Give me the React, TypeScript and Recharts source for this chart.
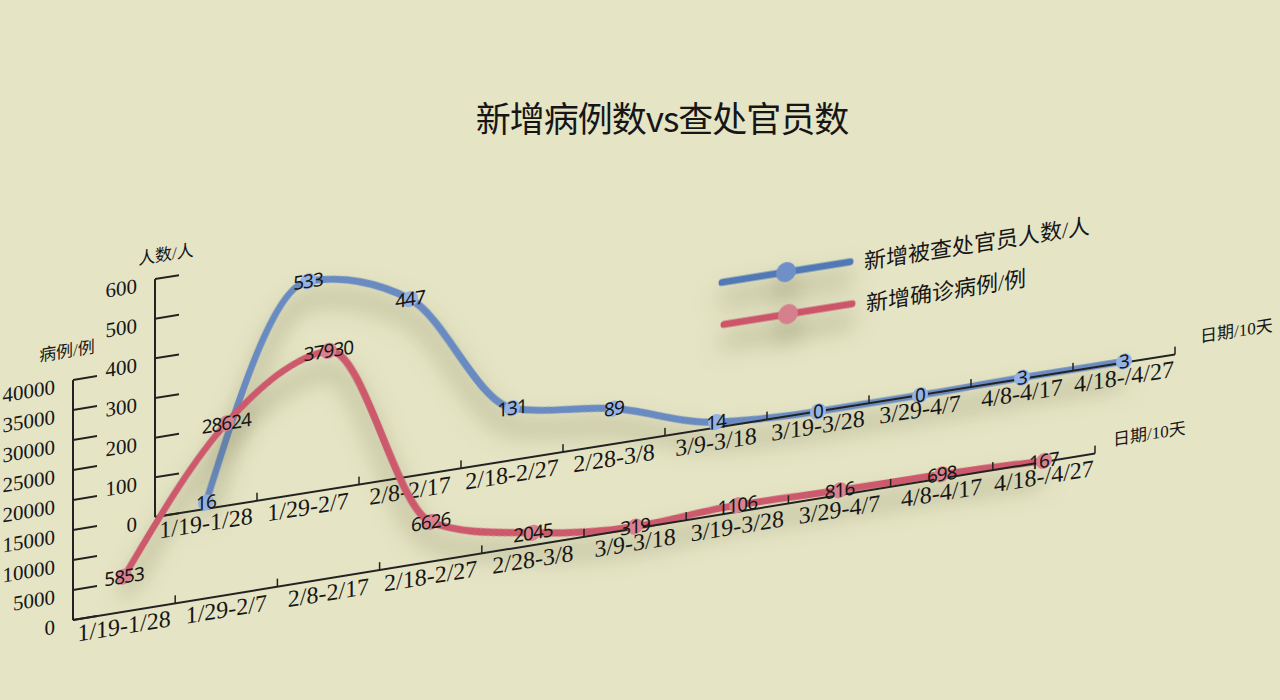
import React from "react";
import { LineChart, Line, XAxis, YAxis, LabelList } from "recharts";

// 10-day periods
const categories = [
  "1/19-1/28",
  "1/29-2/7",
  "2/8-2/17",
  "2/18-2/27",
  "2/28-3/8",
  "3/9-3/18",
  "3/19-3/28",
  "3/29-4/7",
  "4/8-4/17",
  "4/18-/4/27",
];
const officials = [16, 533, 447, 131, 89, 14, 0, 0, 3, 3];
const cases = [5853, 28624, 37930, 6626, 2045, 319, 1106, 816, 698, 167];
const officialTicks = [0, 100, 200, 300, 400, 500, 600];
const caseTicks = [0, 5000, 10000, 15000, 20000, 25000, 30000, 35000, 40000];

const officialsName = "新增被查处官员人数/人";
const casesName = "新增确诊病例/例";

const SERIF = '"Liberation Serif", "DejaVu Serif", "Noto Sans CJK SC", serif';
const SANS = '"Noto Sans", sans-serif';
const INK = "#161616";

const YTick = (props: any) => (
  <text
    x={props.x}
    y={props.y + 4}
    textAnchor="end"
    dominantBaseline="central"
    fontSize={21}
    fontFamily={SERIF}
    fill={INK}
  >
    {props.payload.value}
  </text>
);

function makeXTick(band: number) {
  return (props: any) => {
    const { x, y, payload } = props;
    return (
      <g>
        <line x1={x + band / 2} x2={x + band / 2} y1={y} y2={y - 8} stroke="#222" strokeWidth={1.5} />
        <text
          x={x}
          y={y + 3}
          dy="0.8em"
          textAnchor="middle"
          fontSize={24}
          fontFamily={SERIF}
          fill={INK}
        >
          {payload.value}
        </text>
      </g>
    );
  };
}

type PanelProps = {
  values: number[];
  ticks: number[];
  box: { left: number; top: number; right: number; bottom: number };
  slope: number;
  color: string;
  dotColor: string;
  yName: string;
  yNameAt: [number, number];
  xNameAt: [number, number];
};

function Panel({ values, ticks, box, slope, color, dotColor, yName, yNameAt, xNameAt }: PanelProps) {
  const rows = categories.map((c, i) => ({ cat: c, v: values[i] }));
  const band = (box.right - box.left) / categories.length;
  const nameStyle: React.CSSProperties = {
    position: "absolute",
    fontFamily: SERIF,
    fontSize: 17,
    lineHeight: "20px",
    color: INK,
    whiteSpace: "nowrap",
  };
  return (
    <div
      style={{
        position: "absolute",
        left: 0,
        top: 0,
        width: 1280,
        height: 700,
        transform: `skewY(${-slope}deg)`,
        transformOrigin: `${box.left}px ${box.bottom}px`,
      }}
    >
      <LineChart
        width={1280}
        height={700}
        data={rows}
        margin={{ top: box.top, left: box.left - 60, right: 1280 - box.right, bottom: 700 - box.bottom - 40 }}
      >
        <XAxis
          dataKey="cat"
          height={40}
          interval={0}
          padding={{ left: band / 2, right: band / 2 }}
          tickSize={0}
          tickMargin={0}
          tickLine={false}
          axisLine={{ stroke: "#222", strokeWidth: 2 }}
          tick={makeXTick(band)}
        />
        <YAxis
          width={60}
          domain={[ticks[0], ticks[ticks.length - 1]]}
          ticks={ticks}
          interval={0}
          tickSize={-24}
          tickMargin={42}
          axisLine={{ stroke: "#222", strokeWidth: 2 }}
          tickLine={{ stroke: "#222", strokeWidth: 2 }}
          tick={YTick}
        />
        <Line
          type="monotone"
          dataKey="v"
          className="shadowed"
          stroke={color}
          strokeWidth={7}
          dot={{ r: 8, fill: dotColor, stroke: "none" }}
          activeDot={false}
          isAnimationActive={false}
        >
          <LabelList dataKey="v" position="center" fill={INK} fontSize={19} letterSpacing={-1} fontFamily={SANS} />
        </Line>
      </LineChart>
      <div style={{ ...nameStyle, left: yNameAt[0] - 40, top: yNameAt[1] - 10, width: 80, textAlign: "center" }}>
        {yName}
      </div>
      <div style={{ ...nameStyle, left: xNameAt[0], top: xNameAt[1] - 10 }}>日期/10天</div>
    </div>
  );
}

function LegendItem({ x, y, color, dotColor, label }: { x: number; y: number; color: string; dotColor: string; label: string }) {
  return (
    <div
      style={{
        position: "absolute",
        left: x,
        top: y - 14,
        height: 28,
        display: "flex",
        alignItems: "center",
        transform: "skewY(-9.1deg)",
        transformOrigin: "0 14px",
        whiteSpace: "nowrap",
      }}
    >
      <svg width={136} height={28} style={{ filter: "drop-shadow(0px 16px 12px rgba(60,60,20,0.5))", overflow: "visible" }}>
        <line x1={4} y1={14} x2={132} y2={14} stroke={color} strokeWidth={7} strokeLinecap="round" />
        <circle cx={68} cy={14} r={10} fill={dotColor} />
      </svg>
      <span style={{ marginLeft: 10, fontFamily: SERIF, fontSize: 22, color: INK }}>{label}</span>
    </div>
  );
}

export default function App() {
  return (
    <div
      style={{
        position: "absolute",
        left: 0,
        top: 0,
        width: 1280,
        height: 700,
        overflow: "hidden",
        background: "#e5e4c4",
      }}
    >
      <style>{`.shadowed .recharts-line-curve { filter: drop-shadow(0px 18px 12px rgba(60,60,20,0.5)); }`}</style>
      <div
        style={{
          position: "absolute",
          left: 662,
          top: 95,
          transform: "translateX(-50%)",
          fontFamily: '"Noto Sans CJK SC", sans-serif',
          fontSize: 35,
          letterSpacing: -1,
          lineHeight: "44px",
          color: INK,
          whiteSpace: "nowrap",
        }}
      >
        新增病例数vs查处官员数
      </div>
      <Panel
        values={officials}
        ticks={officialTicks}
        box={{ left: 155, top: 279, right: 1175, bottom: 517 }}
        slope={9.05}
        color="#6a8bc1"
        dotColor="#93b3e4"
        yName="人数/人"
        yNameAt={[166, 257]}
        xNameAt={[1200, 504]}
      />
      <Panel
        values={cases}
        ticks={caseTicks}
        box={{ left: 73, top: 380, right: 1095, bottom: 620 }}
        slope={9.25}
        color="#cc5a6c"
        dotColor="#d9818f"
        yName="病例/例"
        yNameAt={[67, 351]}
        xNameAt={[1113, 610]}
      />
      <LegendItem x={718} y={283} color="#5079b6" dotColor="#6f8fc8" label={officialsName} />
      <LegendItem x={720} y={325} color="#cc5569" dotColor="#d6808e" label={casesName} />
    </div>
  );
}
